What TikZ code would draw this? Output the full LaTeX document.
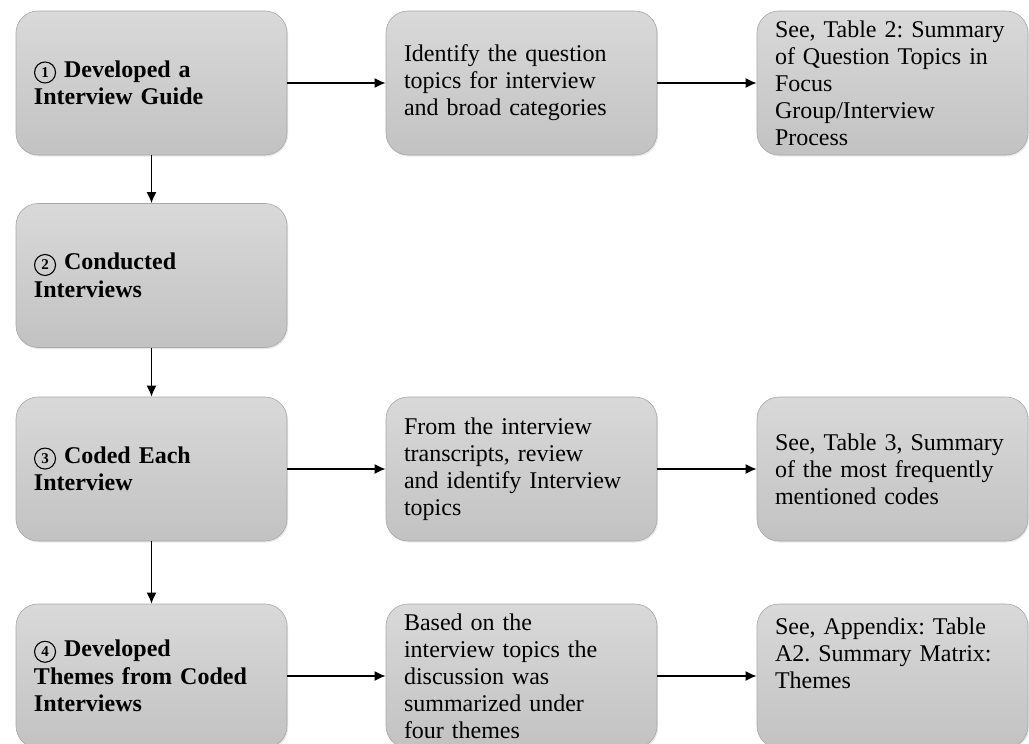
\documentclass[tikz,border=0pt]{standalone}
\usepackage{fontspec}
\setmainfont{Liberation Serif}
\usetikzlibrary{arrows.meta,shadows}
\definecolor{boxtop}{HTML}{D9D9D9}
\definecolor{boxbot}{HTML}{C2C2C2}
\definecolor{boxline}{HTML}{A8A8A8}
\newcommand{\cnum}[1]{\tikz[baseline=(cn#1.base)]\node[circle,draw=black,line width=1.1pt,inner sep=0pt,minimum size=21pt,font=\bfseries\fontsize{15}{15}\selectfont,text=black] (cn#1) {#1};}
\tikzset{
  stepbox/.style={rounded corners=22pt, draw=boxline, line width=0.6pt,
    top color=boxtop, bottom color=boxbot,
    minimum width=271pt, minimum height=144pt, text width=235pt,
    align=left, inner sep=0pt, font=\fontsize{24}{27}\selectfont,
    drop shadow={opacity=0.18, shadow xshift=1.2pt, shadow yshift=-1.5pt}},
  leftbox/.style={stepbox, font=\bfseries\fontsize{24}{27.5}\selectfont},
  arr/.style={-{Latex[length=11pt,width=10pt]}, line width=1.6pt, black}
}
\begin{document}
\frenchspacing
\begin{tikzpicture}[x=1pt,y=1pt]
\useasboundingbox (0,0) rectangle (1029,-744);
% left column
\node[leftbox] (s1) at (151.5,-83) {\cnum{1} Developed a\\Interview Guide};
\node[leftbox] (s2) at (151.5,-275.5) {\cnum{2} Conducted\\Interviews};
\node[leftbox] (s3) at (151.5,-469) {\cnum{3} Coded Each\\Interview};
\node[leftbox] (s4) at (151.5,-676) {\cnum{4} Developed\\Themes from Coded\\Interviews};
% middle column
\node[stepbox] (m1) at (521.5,-83) {Identify the question\\topics for interview\\and broad categories};
\node[stepbox] (m3) at (521.5,-469) {From the interview\\transcripts, review\\and identify Interview\\topics};
\node[stepbox] (m4) at (521.5,-676) {Based on the\\interview topics the\\discussion was\\summarized under\\four themes};
% right column
\node[stepbox] (r1) at (892.5,-83) {See, Table 2: Summary\\of Question Topics in\\Focus\\Group/Interview\\Process};
\node[stepbox] (r3) at (892.5,-469) {See, Table 3, Summary\\of the most frequently\\mentioned codes};
\node[stepbox] (r4) at (892.5,-676) {See, Appendix: Table\\A2. Summary Matrix:\\Themes\\[19pt]\mbox{}};
% connectors
\draw[arr] (s1) -- (s2);
\draw[arr] (s2) -- (s3);
\draw[arr] (s3) -- (s4);
\draw[arr] (s1) -- (m1);
\draw[arr] (m1) -- (r1);
\draw[arr] (s3) -- (m3);
\draw[arr] (m3) -- (r3);
\draw[arr] (s4) -- (m4);
\draw[arr] (m4) -- (r4);
\end{tikzpicture}
\end{document}
